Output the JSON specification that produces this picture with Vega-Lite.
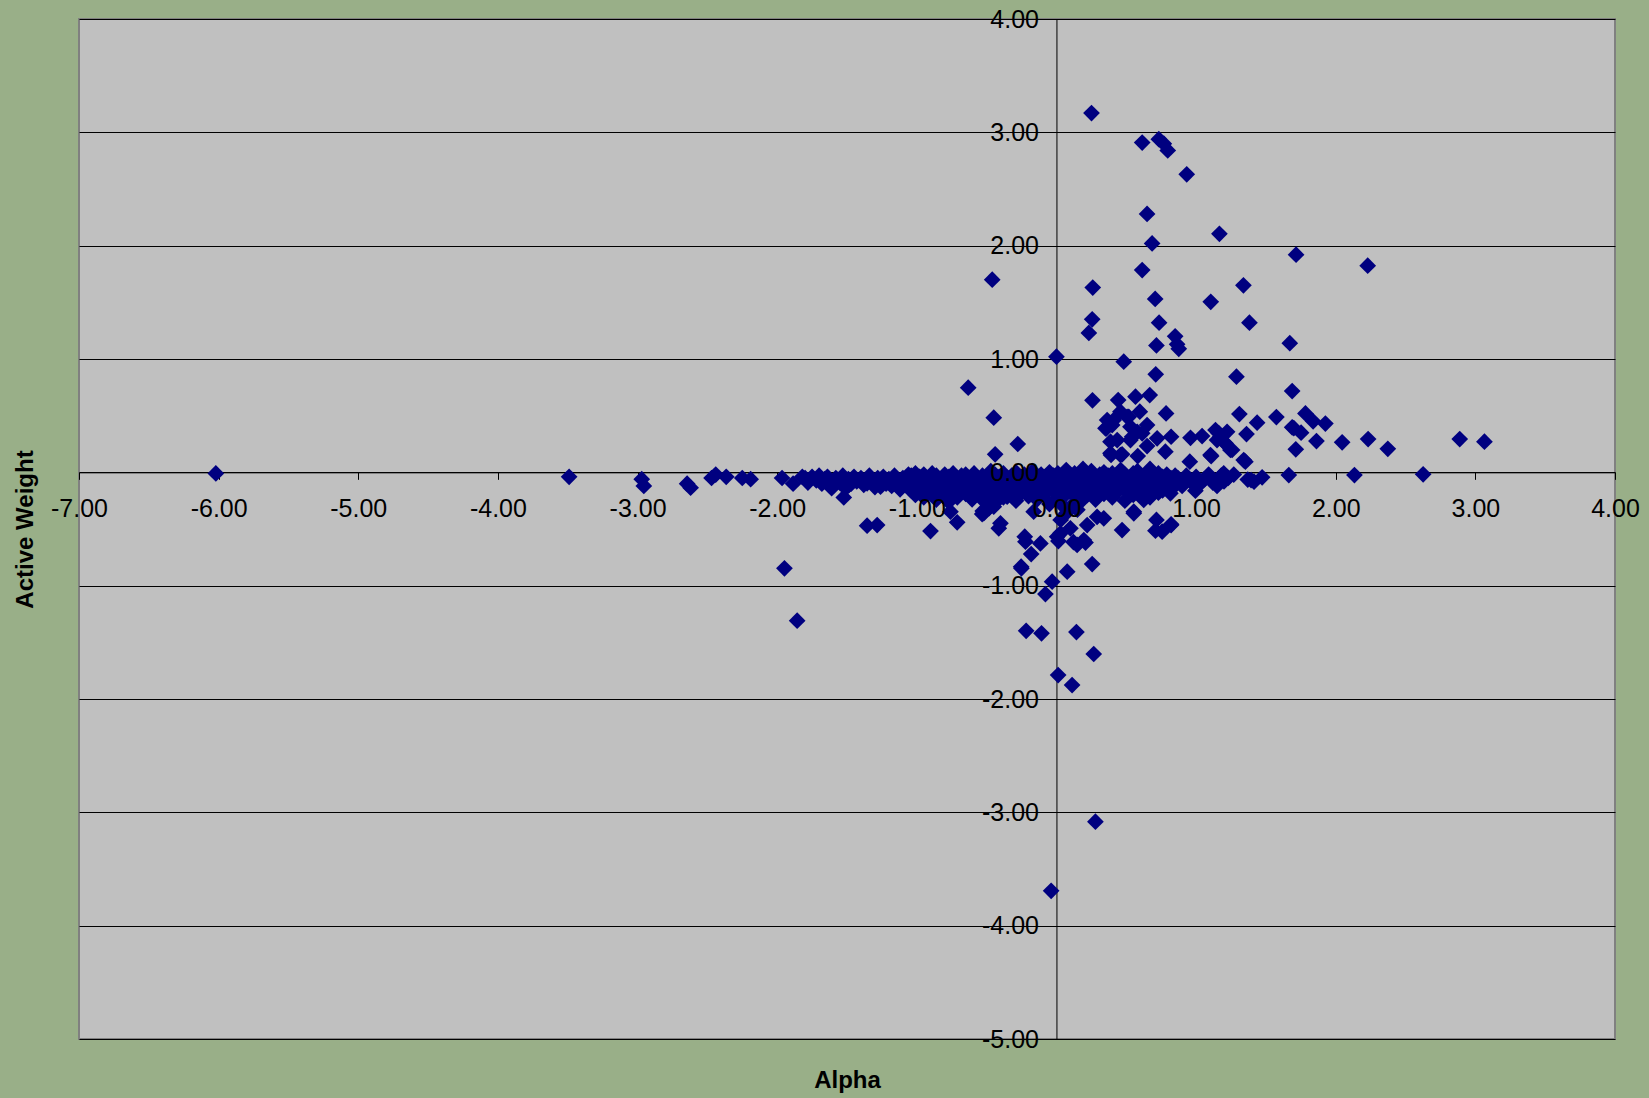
{
"$schema": "https://vega.github.io/schema/vega-lite/v6.json",
"width": 1536,
"height": 1020,
"autosize": {"type": "none"},
"padding": {"left": 79, "top": 19, "right": 34, "bottom": 59},
"background": "#99AF88",
"config": {
  "view": {"fill": "#C0C0C0", "stroke": "#808080", "strokeWidth": 2},
  "font": "Liberation Sans"
},
"data": {"values": [
{"a":-6.02,"w":-0.01},{"a":-3.49,"w":-0.04},{"a":-2.97,"w":-0.06},{"a":-2.955,"w":-0.12},{"a":-2.645,"w":-0.1},{"a":-2.62,"w":-0.135},
{"a":-2.47,"w":-0.05},{"a":-2.44,"w":-0.02},{"a":-2.365,"w":-0.04},{"a":-2.25,"w":-0.05},{"a":-2.19,"w":-0.06},{"a":-1.965,"w":-0.05},
{"a":-1.886,"w":-0.1},{"a":-1.82,"w":-0.04},{"a":-1.948,"w":-0.847},{"a":-1.857,"w":-1.309},
{"a":-1.80,"w":-0.05},{"a":-1.78,"w":-0.09},{"a":-1.75,"w":-0.04},{"a":-1.72,"w":-0.07},{"a":-1.70,"w":-0.03},{"a":-1.68,"w":-0.10},{"a":-1.66,"w":-0.06},{"a":-1.64,"w":-0.04},{"a":-1.62,"w":-0.12},{"a":-1.60,"w":-0.08},{"a":-1.58,"w":-0.05},{"a":-1.55,"w":-0.09},{"a":-1.53,"w":-0.03},{"a":-1.51,"w":-0.14},{"a":-1.49,"w":-0.06},{"a":-1.47,"w":-0.10},{"a":-1.45,"w":-0.04},{"a":-1.43,"w":-0.08},{"a":-1.40,"w":-0.05},{"a":-1.38,"w":-0.11},{"a":-1.36,"w":-0.07},{"a":-1.34,"w":-0.03},{"a":-1.32,"w":-0.09},{"a":-1.30,"w":-0.13},{"a":-1.28,"w":-0.05},{"a":-1.26,"w":-0.08},{"a":-1.24,"w":-0.04},{"a":-1.22,"w":-0.10},{"a":-1.20,"w":-0.06},{"a":-1.18,"w":-0.12},{"a":-1.16,"w":-0.03},{"a":-1.14,"w":-0.08},{"a":-1.12,"w":-0.15},{"a":-1.10,"w":-0.05},{"a":-1.08,"w":-0.10},{"a":-1.06,"w":-0.02},
{"a":-1.61,"w":-0.14},{"a":-1.523,"w":-0.221},{"a":-1.487,"w":-0.112},{"a":-1.356,"w":-0.097},{"a":-1.26,"w":-0.127},{"a":-1.069,"w":-0.127},{"a":-0.974,"w":-0.156},{"a":-0.783,"w":-0.244},{"a":-0.604,"w":-0.238},
{"a":-1.356,"w":-0.471},{"a":-1.284,"w":-0.465},{"a":-0.902,"w":-0.518},{"a":-0.711,"w":-0.441},{"a":-0.759,"w":-0.347},{"a":-0.532,"w":-0.368},{"a":-0.52,"w":-0.36},{"a":-0.401,"w":-0.45},{"a":-0.413,"w":-0.494},{"a":-0.227,"w":-0.568},{"a":-0.115,"w":-0.627},{"a":-0.181,"w":-0.721},{"a":-0.163,"w":-0.347},{"a":-0.353,"w":-0.215},{"a":-0.449,"w":-0.303},{"a":-0.528,"w":-0.342},{"a":-0.483,"w":-0.315},{"a":-0.453,"w":-0.25},{"a":-0.286,"w":-0.194},{"a":-0.324,"w":-0.11},{"a":-0.55,"w":-0.194},
{"a":-0.632,"w":0.747},{"a":-0.449,"w":0.482},{"a":-0.277,"w":0.25},{"a":-0.439,"w":0.159},{"a":-0.46,"w":1.70},
{"a":-0.222,"w":-0.612},{"a":-0.251,"w":-0.847},{"a":-0.253,"w":-0.833},{"a":0.077,"w":-0.877},{"a":-0.031,"w":-0.965},{"a":-0.079,"w":-1.074},{"a":0.256,"w":-0.809},{"a":-0.217,"w":-1.398},{"a":-0.107,"w":-1.42},{"a":0.143,"w":-1.409},{"a":0.267,"w":-1.603},{"a":0.012,"w":-1.789},{"a":0.112,"w":-1.877},{"a":0.279,"w":-3.083},{"a":-0.038,"w":-3.692},
{"a":0.014,"w":-0.606},{"a":0.122,"w":-0.615},{"a":0.148,"w":-0.641},{"a":0.208,"w":-0.62},{"a":0.005,"w":-0.568},{"a":0.029,"w":-0.538},{"a":0.1,"w":-0.494},{"a":0.196,"w":-0.597},{"a":0.22,"w":-0.465},{"a":0.291,"w":-0.392},{"a":0.339,"w":-0.406},{"a":0.47,"w":-0.509},{"a":0.554,"w":-0.347},{"a":0.625,"w":-0.215},{"a":0.757,"w":-0.524},{"a":0.821,"w":-0.465},{"a":0.816,"w":-0.156},
{"a":0.05,"w":-0.30},{"a":0.03,"w":-0.42},{"a":0.07,"w":-0.36},{"a":0.12,"w":-0.28},{"a":0.15,"w":-0.33},{"a":0.18,"w":-0.25},
{"a":0.995,"w":-0.162},{"a":0.816,"w":-0.185},{"a":0.625,"w":-0.244},{"a":0.554,"w":-0.362},{"a":0.716,"w":-0.42},{"a":0.821,"w":-0.459},{"a":0.709,"w":-0.515},{"a":1.15,"w":-0.068},{"a":1.198,"w":-0.009},
{"a":0.251,"w":3.17},{"a":0.614,"w":2.91},{"a":0.733,"w":2.94},{"a":0.769,"w":2.90},{"a":0.797,"w":2.84},{"a":0.933,"w":2.63},{"a":0.649,"w":2.28},{"a":1.167,"w":2.105},{"a":0.685,"w":2.02},{"a":1.716,"w":1.92},{"a":0.614,"w":1.785},{"a":0.26,"w":1.63},{"a":1.339,"w":1.65},{"a":0.707,"w":1.53},{"a":1.105,"w":1.505},{"a":0.256,"w":1.35},{"a":0.735,"w":1.32},{"a":1.382,"w":1.32},{"a":0.232,"w":1.23},{"a":0.85,"w":1.20},{"a":0.864,"w":1.13},{"a":0.876,"w":1.09},{"a":0.716,"w":1.12},{"a":1.671,"w":1.14},{"a":0.0,"w":1.02},{"a":0.482,"w":0.976},{"a":2.229,"w":1.823},
{"a":0.711,"w":0.865},{"a":1.289,"w":0.844},{"a":1.688,"w":0.717},{"a":0.258,"w":0.635},{"a":0.442,"w":0.638},{"a":0.566,"w":0.667},{"a":0.668,"w":0.682},{"a":0.785,"w":0.52},{"a":1.31,"w":0.514},{"a":1.437,"w":0.438},{"a":1.575,"w":0.488},{"a":1.688,"w":0.397},{"a":1.714,"w":0.203},{"a":1.361,"w":0.338},{"a":1.353,"w":0.094},{"a":1.664,"w":-0.024},{"a":1.394,"w":-0.068},{"a":1.473,"w":-0.044},{"a":1.37,"w":-0.064},
{"a":1.783,"w":0.52},{"a":1.838,"w":0.45},{"a":1.926,"w":0.43},{"a":1.70,"w":0.39},{"a":1.752,"w":0.35},{"a":1.862,"w":0.276},{"a":2.046,"w":0.265},{"a":2.232,"w":0.294},{"a":2.373,"w":0.208},{"a":2.888,"w":0.294},{"a":3.065,"w":0.27},{"a":2.134,"w":-0.024},{"a":2.626,"w":-0.018},
{"a":0.358,"w":0.388},{"a":0.41,"w":0.461},{"a":0.518,"w":0.49},{"a":0.597,"w":0.535},{"a":0.649,"w":0.417},{"a":0.542,"w":0.314},{"a":0.435,"w":0.285},{"a":0.391,"w":0.153},{"a":0.47,"w":0.159},{"a":0.582,"w":0.144},{"a":0.649,"w":0.232},{"a":0.721,"w":0.30},{"a":0.821,"w":0.314},{"a":0.78,"w":0.182},{"a":0.53,"w":0.402},{"a":0.614,"w":0.344},{"a":0.96,"w":0.305},{"a":1.043,"w":0.32},{"a":1.139,"w":0.373},{"a":1.174,"w":0.314},{"a":1.222,"w":0.358},{"a":1.21,"w":0.256},{"a":1.258,"w":0.197},{"a":1.108,"w":0.144},{"a":0.955,"w":0.094},{"a":1.15,"w":0.285},{"a":0.458,"w":0.535},{"a":0.399,"w":0.417},{"a":0.363,"w":0.461},{"a":0.506,"w":0.49},{"a":0.351,"w":0.388},{"a":0.578,"w":0.358},{"a":0.387,"w":0.27},{"a":0.53,"w":0.285},{"a":0.387,"w":0.168},{"a":0.458,"w":0.153},{"a":1.163,"w":0.344},{"a":1.198,"w":0.27},{"a":1.246,"w":0.197},{"a":1.103,"w":0.153},{"a":1.341,"w":0.108},{"a":1.415,"w":-0.083},
{"a":-1.04,"w":-0.03},{"a":-1.04,"w":-0.09},{"a":-1.04,"w":-0.16},
{"a":-1.01,"w":-0.01},{"a":-1.01,"w":-0.06},{"a":-1.01,"w":-0.12},{"a":-1.01,"w":-0.20},
{"a":-0.98,"w":-0.04},{"a":-0.98,"w":-0.10},{"a":-0.98,"w":-0.15},
{"a":-0.95,"w":-0.02},{"a":-0.95,"w":-0.07},{"a":-0.95,"w":-0.13},{"a":-0.95,"w":-0.22},
{"a":-0.92,"w":-0.05},{"a":-0.92,"w":-0.11},{"a":-0.92,"w":-0.18},
{"a":-0.89,"w":-0.01},{"a":-0.89,"w":-0.08},{"a":-0.89,"w":-0.14},
{"a":-0.86,"w":-0.03},{"a":-0.86,"w":-0.10},{"a":-0.86,"w":-0.17},{"a":-0.86,"w":-0.24},
{"a":-0.83,"w":-0.06},{"a":-0.83,"w":-0.12},{"a":-0.83,"w":-0.20},
{"a":-0.80,"w":-0.02},{"a":-0.80,"w":-0.09},{"a":-0.80,"w":-0.15},
{"a":-0.77,"w":-0.04},{"a":-0.77,"w":-0.11},{"a":-0.77,"w":-0.18},{"a":-0.77,"w":-0.26},
{"a":-0.74,"w":-0.01},{"a":-0.74,"w":-0.07},{"a":-0.74,"w":-0.13},
{"a":-0.71,"w":-0.05},{"a":-0.71,"w":-0.10},{"a":-0.71,"w":-0.16},{"a":-0.71,"w":-0.22},
{"a":-0.68,"w":-0.03},{"a":-0.68,"w":-0.08},{"a":-0.68,"w":-0.14},
{"a":-0.65,"w":-0.02},{"a":-0.65,"w":-0.09},{"a":-0.65,"w":-0.19},
{"a":-0.62,"w":-0.06},{"a":-0.62,"w":-0.12},{"a":-0.62,"w":-0.17},
{"a":-0.59,"w":-0.01},{"a":-0.59,"w":-0.04},{"a":-0.59,"w":-0.10},{"a":-0.59,"w":-0.21},
{"a":-0.56,"w":-0.07},{"a":-0.56,"w":-0.13},{"a":-0.56,"w":-0.18},
{"a":-0.53,"w":-0.03},{"a":-0.53,"w":-0.09},{"a":-0.53,"w":-0.15},{"a":-0.53,"w":-0.24},
{"a":-0.50,"w":-0.05},{"a":-0.50,"w":-0.11},{"a":-0.50,"w":-0.20},
{"a":-0.47,"w":0.01},{"a":-0.47,"w":-0.06},{"a":-0.47,"w":-0.14},
{"a":-0.44,"w":-0.02},{"a":-0.44,"w":-0.08},{"a":-0.44,"w":-0.17},{"a":-0.44,"w":-0.27},
{"a":-0.41,"w":-0.04},{"a":-0.41,"w":-0.10},{"a":-0.41,"w":-0.15},
{"a":-0.38,"w":-0.01},{"a":-0.38,"w":-0.07},{"a":-0.38,"w":-0.12},{"a":-0.38,"w":-0.22},
{"a":-0.35,"w":-0.05},{"a":-0.35,"w":-0.09},{"a":-0.35,"w":-0.18},
{"a":-0.32,"w":-0.03},{"a":-0.32,"w":-0.11},{"a":-0.32,"w":-0.16},
{"a":-0.29,"w":0.00},{"a":-0.29,"w":-0.06},{"a":-0.29,"w":-0.13},{"a":-0.29,"w":-0.25},
{"a":-0.26,"w":-0.04},{"a":-0.26,"w":-0.08},{"a":-0.26,"w":-0.19},
{"a":-0.23,"w":-0.02},{"a":-0.23,"w":-0.10},{"a":-0.23,"w":-0.15},
{"a":-0.20,"w":-0.06},{"a":-0.20,"w":-0.12},{"a":-0.20,"w":-0.21},
{"a":-0.17,"w":0.01},{"a":-0.17,"w":-0.03},{"a":-0.17,"w":-0.09},{"a":-0.17,"w":-0.17},
{"a":-0.14,"w":-0.05},{"a":-0.14,"w":-0.11},{"a":-0.14,"w":-0.24},
{"a":-0.11,"w":-0.02},{"a":-0.11,"w":-0.07},{"a":-0.11,"w":-0.14},
{"a":-0.08,"w":-0.04},{"a":-0.08,"w":-0.10},{"a":-0.08,"w":-0.19},
{"a":-0.05,"w":0.00},{"a":-0.05,"w":-0.06},{"a":-0.05,"w":-0.13},{"a":-0.05,"w":-0.28},
{"a":-0.02,"w":-0.03},{"a":-0.02,"w":-0.09},{"a":-0.02,"w":-0.16},
{"a":0.01,"w":-0.01},{"a":0.01,"w":-0.05},{"a":0.01,"w":-0.12},{"a":0.01,"w":-0.22},
{"a":0.04,"w":-0.04},{"a":0.04,"w":-0.08},{"a":0.04,"w":-0.15},
{"a":0.07,"w":0.02},{"a":0.07,"w":-0.06},{"a":0.07,"w":-0.11},{"a":0.07,"w":-0.19},
{"a":0.10,"w":-0.03},{"a":0.10,"w":-0.09},{"a":0.10,"w":-0.14},
{"a":0.13,"w":-0.01},{"a":0.13,"w":-0.07},{"a":0.13,"w":-0.12},{"a":0.13,"w":-0.21},
{"a":0.16,"w":-0.04},{"a":0.16,"w":-0.10},{"a":0.16,"w":-0.17},
{"a":0.19,"w":0.03},{"a":0.19,"w":-0.02},{"a":0.19,"w":-0.08},{"a":0.19,"w":-0.15},
{"a":0.22,"w":-0.05},{"a":0.22,"w":-0.11},{"a":0.22,"w":-0.20},
{"a":0.25,"w":0.01},{"a":0.25,"w":-0.03},{"a":0.25,"w":-0.09},{"a":0.25,"w":-0.16},
{"a":0.28,"w":-0.06},{"a":0.28,"w":-0.12},{"a":0.28,"w":-0.24},
{"a":0.31,"w":-0.02},{"a":0.31,"w":-0.08},{"a":0.31,"w":-0.14},
{"a":0.34,"w":0.00},{"a":0.34,"w":-0.05},{"a":0.34,"w":-0.10},{"a":0.34,"w":-0.19},
{"a":0.37,"w":-0.03},{"a":0.37,"w":-0.09},{"a":0.37,"w":-0.16},
{"a":0.40,"w":-0.01},{"a":0.40,"w":-0.07},{"a":0.40,"w":-0.12},{"a":0.40,"w":-0.22},
{"a":0.43,"w":-0.04},{"a":0.43,"w":-0.10},{"a":0.43,"w":-0.18},
{"a":0.46,"w":0.02},{"a":0.46,"w":-0.06},{"a":0.46,"w":-0.13},
{"a":0.49,"w":-0.02},{"a":0.49,"w":-0.08},{"a":0.49,"w":-0.15},{"a":0.49,"w":-0.25},
{"a":0.52,"w":-0.05},{"a":0.52,"w":-0.11},{"a":0.52,"w":-0.17},
{"a":0.55,"w":-0.01},{"a":0.55,"w":-0.07},{"a":0.55,"w":-0.14},{"a":0.55,"w":-0.20},
{"a":0.58,"w":0.01},{"a":0.58,"w":-0.04},{"a":0.58,"w":-0.10},
{"a":0.61,"w":-0.06},{"a":0.61,"w":-0.12},{"a":0.61,"w":-0.19},
{"a":0.64,"w":-0.02},{"a":0.64,"w":-0.09},{"a":0.64,"w":-0.16},
{"a":0.67,"w":0.03},{"a":0.67,"w":-0.05},{"a":0.67,"w":-0.11},{"a":0.67,"w":-0.22},
{"a":0.70,"w":-0.03},{"a":0.70,"w":-0.08},{"a":0.70,"w":-0.14},
{"a":0.73,"w":-0.01},{"a":0.73,"w":-0.06},{"a":0.73,"w":-0.12},{"a":0.73,"w":-0.18},
{"a":0.76,"w":-0.04},{"a":0.76,"w":-0.10},{"a":0.76,"w":-0.16},
{"a":0.79,"w":-0.02},{"a":0.79,"w":-0.07},{"a":0.79,"w":-0.13},
{"a":0.82,"w":-0.05},{"a":0.82,"w":-0.09},{"a":0.82,"w":-0.15},
{"a":0.85,"w":-0.03},{"a":0.85,"w":-0.11},
{"a":0.87,"w":-0.05},{"a":0.90,"w":-0.12},{"a":0.93,"w":-0.03},{"a":0.96,"w":-0.08},{"a":1.00,"w":-0.04},{"a":1.03,"w":-0.10},{"a":1.06,"w":-0.06},{"a":1.09,"w":-0.02},{"a":1.12,"w":-0.09},{"a":1.15,"w":-0.12},{"a":1.18,"w":-0.03},{"a":1.20,"w":-0.08},{"a":1.23,"w":-0.05},{"a":1.27,"w":-0.02}
]},
"resolve": {"axis": {"x": "independent", "y": "independent"}},
"layer": [
  {
    "mark": {"type": "point", "shape": "diamond", "filled": true, "color": "#000080", "size": 280, "opacity": 1, "strokeWidth": 0},
    "encoding": {
      "x": {"field": "a", "type": "quantitative", "scale": {"domain": [-7, 4], "nice": false, "zero": false},
        "axis": {"orient": "bottom", "title": "Alpha", "values": [-7,-6,-5,-4,-3,-2,-1,0,1,2,3,4], "offset": -566.67,
          "grid": false, "labels": false, "domainColor": "#000000", "domainWidth": 1, "tickColor": "#000000", "tickWidth": 1, "tickSize": 7,
          "titleFont": "Liberation Sans", "titleFontSize": 24, "titleFontWeight": "bold", "titleColor": "#000000",
          "titleY": 615.5, "titleBaseline": "alphabetic", "zindex": 0}},
      "y": {"field": "w", "type": "quantitative", "scale": {"domain": [-5, 4], "nice": false, "zero": false},
        "axis": {"orient": "left", "title": "Active Weight", "values": [-5,-4,-3,-2,-1,0,1,2,3,4], "offset": -977.45,
          "grid": true, "gridColor": "#000000", "gridWidth": 1, "gridOpacity": 1, "labels": false,
          "domainColor": "#000000", "domainWidth": 1, "tickColor": "#000000", "tickWidth": 1, "tickSize": 7,
          "titleFont": "Liberation Sans", "titleFontSize": 24, "titleFontWeight": "bold", "titleColor": "#000000",
          "titleX": -1023.5, "titleBaseline": "alphabetic", "zindex": 0}}
    }
  },
  {
    "data": {"values": [{"a": 0, "w": 0}]},
    "mark": {"type": "point", "opacity": 0},
    "encoding": {
      "x": {"field": "a", "type": "quantitative",
        "axis": {"orient": "bottom", "title": null, "values": [-7,-6,-5,-4,-3,-2,-1,0,1,2,3,4], "offset": -566.67,
          "grid": false, "domain": false, "ticks": true, "tickOpacity": 0, "tickSize": 7,
          "labelFont": "Liberation Sans", "labelFontSize": 25, "labelColor": "#000000", "labelPadding": 17,
          "labelOverlap": false, "labelFlush": false, "labelBound": false,
          "labelExpr": "replace(format(datum.value, '.2f'), '\u2212', '-')", "zindex": 1}},
      "y": {"field": "w", "type": "quantitative",
        "axis": {"orient": "left", "title": null, "values": [-5,-4,-3,-2,-1,0,1,2,3,4], "offset": -977.45,
          "grid": false, "domain": false, "ticks": true, "tickOpacity": 0, "tickSize": 7,
          "labelFont": "Liberation Sans", "labelFontSize": 25, "labelColor": "#000000", "labelPadding": 11,
          "labelOverlap": false, "labelFlush": false, "labelBound": false,
          "labelExpr": "replace(format(datum.value, '.2f'), '\u2212', '-')", "zindex": 1}}
    }
  }
]
}
